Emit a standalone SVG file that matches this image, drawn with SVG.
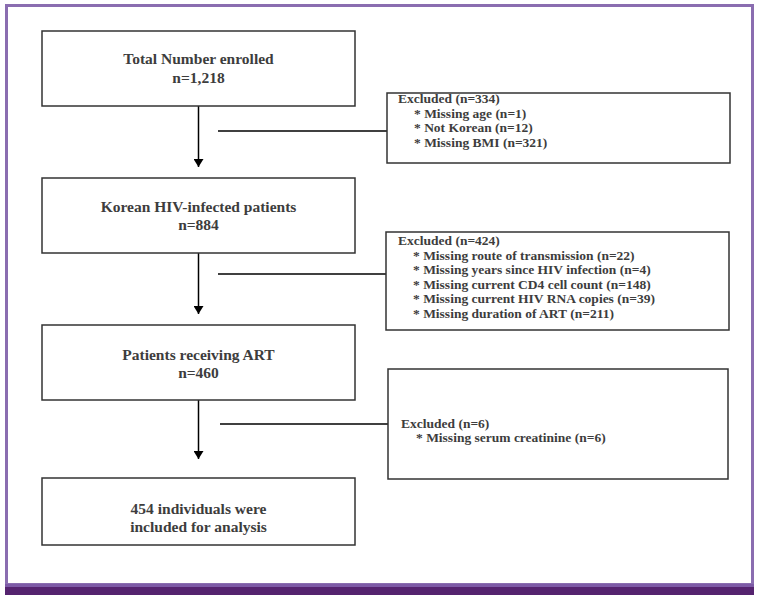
<svg xmlns="http://www.w3.org/2000/svg" width="762" height="602" viewBox="0 0 762 602">
<style>
.box{fill:#fff;stroke:#333;stroke-width:1.5}
.main{font-family:"Liberation Serif",serif;font-weight:bold;font-size:15.5px;fill:#3d3d3d;text-anchor:middle}
.exc{font-family:"Liberation Serif",serif;font-weight:bold;font-size:13.5px;fill:#3d3d3d}
.ln{stroke:#000;stroke-width:1.5;fill:none}
</style>
<defs>
<marker id="ah" viewBox="0 0 8 10" refX="8" refY="5" markerWidth="8" markerHeight="10" markerUnits="userSpaceOnUse" orient="auto">
<path d="M0,0 L8,5 L0,10 Z" fill="#000"/>
</marker>
</defs>
<rect x="0" y="0" width="762" height="602" fill="#fff"/>
<rect id="frame" x="6.5" y="5.5" width="746" height="579" fill="#fff" stroke="#8a6db0" stroke-width="3"/>
<rect x="5" y="584" width="749" height="3" fill="#7d5aa6"/>
<rect x="5" y="587" width="749" height="8" fill="#55236f"/>

<g id="connectors">
<line class="ln" x1="198.5" y1="106" x2="198.5" y2="167" marker-end="url(#ah)"/>
<line class="ln" x1="218" y1="131" x2="387" y2="131"/>
<line class="ln" x1="198.5" y1="253" x2="198.5" y2="314" marker-end="url(#ah)"/>
<line class="ln" x1="218" y1="274" x2="386" y2="274"/>
<line class="ln" x1="198.5" y1="400" x2="198.5" y2="459" marker-end="url(#ah)"/>
<line class="ln" x1="220" y1="424" x2="388" y2="424"/>
</g>

<g id="n1">
<rect class="box" x="42" y="31" width="313" height="75"/>
<text class="main" x="198.5" y="64">Total Number enrolled</text>
<text class="main" x="198.5" y="83">n=1,218</text>
</g>
<g id="n2">
<rect class="box" x="42" y="178" width="313" height="75"/>
<text class="main" x="198.5" y="212">Korean HIV-infected patients</text>
<text class="main" x="198.5" y="230">n=884</text>
</g>
<g id="n3">
<rect class="box" x="42" y="325" width="313" height="75"/>
<text class="main" x="198.5" y="359.5">Patients receiving ART</text>
<text class="main" x="198.5" y="377.5">n=460</text>
</g>
<g id="n4">
<rect class="box" x="42" y="478" width="313" height="67"/>
<text class="main" x="198.5" y="514">454 individuals were</text>
<text class="main" x="198.5" y="531.5">included for analysis</text>
</g>

<g id="e1">
<rect class="box" x="387" y="93" width="343" height="70"/>
<text class="exc" x="398" y="103">Excluded (n=334)</text>
<text class="exc" x="414" y="117.5">* Missing age (n=1)</text>
<text class="exc" x="414" y="132">* Not Korean (n=12)</text>
<text class="exc" x="414" y="146.5">* Missing BMI (n=321)</text>
</g>
<g id="e2">
<rect class="box" x="386" y="232" width="343" height="98"/>
<text class="exc" x="398" y="245">Excluded (n=424)</text>
<text class="exc" x="413" y="259.5">* Missing route of transmission (n=22)</text>
<text class="exc" x="413" y="274">* Missing years since HIV infection (n=4)</text>
<text class="exc" x="413" y="288.5">* Missing current CD4 cell count (n=148)</text>
<text class="exc" x="413" y="303">* Missing current HIV RNA copies (n=39)</text>
<text class="exc" x="413" y="317.5">* Missing duration of ART (n=211)</text>
</g>
<g id="e3">
<rect class="box" x="388" y="369" width="340" height="110"/>
<text class="exc" x="401" y="428">Excluded (n=6)</text>
<text class="exc" x="416" y="442">* Missing serum creatinine (n=6)</text>
</g>
</svg>
